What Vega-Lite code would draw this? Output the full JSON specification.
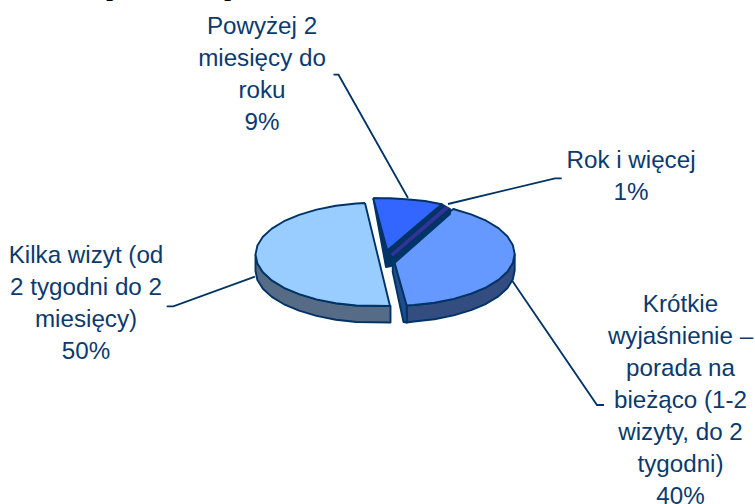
{"$schema":"https://vega.github.io/schema/vega-lite/v6.json","width":755,"height":504,"padding":0,"autosize":{"type":"none"},"background":"white","config":{"view":{"stroke":null}},
"layer":[
{"data":{"values":[
{"slice":"Kilka bok","x":255.5,"y":254.5},{"slice":"Kilka bok","x":257.4,"y":263.5},{"slice":"Kilka bok","x":262.9,"y":272.2},{"slice":"Kilka bok","x":271.8,"y":280.4},{"slice":"Kilka bok","x":284,"y":287.8},{"slice":"Kilka bok","x":299.1,"y":294.2},{"slice":"Kilka bok","x":316.5,"y":299.4},{"slice":"Kilka bok","x":335.8,"y":303.2},{"slice":"Kilka bok","x":356.3,"y":305.5},{"slice":"Kilka bok","x":390.5,"y":306},{"slice":"Kilka bok","x":390.5,"y":322.5},{"slice":"Kilka bok","x":356.3,"y":322},{"slice":"Kilka bok","x":335.8,"y":319.7},{"slice":"Kilka bok","x":316.5,"y":315.9},{"slice":"Kilka bok","x":299.1,"y":310.7},{"slice":"Kilka bok","x":284,"y":304.3},{"slice":"Kilka bok","x":271.8,"y":296.9},{"slice":"Kilka bok","x":262.9,"y":288.7},{"slice":"Kilka bok","x":257.4,"y":280},{"slice":"Kilka bok","x":255.5,"y":271},{"slice":"Kilka bok","x":255.5,"y":254.5},
{"slice":"Kilka","x":365,"y":203},{"slice":"Kilka","x":356.3,"y":203.5},{"slice":"Kilka","x":335.8,"y":205.8},{"slice":"Kilka","x":316.5,"y":209.6},{"slice":"Kilka","x":299.1,"y":214.8},{"slice":"Kilka","x":284,"y":221.2},{"slice":"Kilka","x":271.8,"y":228.6},{"slice":"Kilka","x":262.9,"y":236.8},{"slice":"Kilka","x":257.4,"y":245.5},{"slice":"Kilka","x":255.5,"y":254.5},{"slice":"Kilka","x":257.4,"y":263.5},{"slice":"Kilka","x":262.9,"y":272.2},{"slice":"Kilka","x":271.8,"y":280.4},{"slice":"Kilka","x":284,"y":287.8},{"slice":"Kilka","x":299.1,"y":294.2},{"slice":"Kilka","x":316.5,"y":299.4},{"slice":"Kilka","x":335.8,"y":303.2},{"slice":"Kilka","x":356.3,"y":305.5},{"slice":"Kilka","x":390,"y":306},{"slice":"Kilka","x":365,"y":203},
{"slice":"Krotkie bok","x":514.7,"y":254},{"slice":"Krotkie bok","x":512.8,"y":263},{"slice":"Krotkie bok","x":507.3,"y":271.7},{"slice":"Krotkie bok","x":498.4,"y":279.9},{"slice":"Krotkie bok","x":486.2,"y":287.3},{"slice":"Krotkie bok","x":471.1,"y":293.7},{"slice":"Krotkie bok","x":453.7,"y":298.9},{"slice":"Krotkie bok","x":434.4,"y":302.7},{"slice":"Krotkie bok","x":413.9,"y":305},{"slice":"Krotkie bok","x":406.7,"y":305.4},{"slice":"Krotkie bok","x":406.7,"y":322.5},{"slice":"Krotkie bok","x":413.9,"y":321.5},{"slice":"Krotkie bok","x":434.4,"y":319.2},{"slice":"Krotkie bok","x":453.7,"y":315.4},{"slice":"Krotkie bok","x":471.1,"y":310.2},{"slice":"Krotkie bok","x":486.2,"y":303.8},{"slice":"Krotkie bok","x":498.4,"y":296.4},{"slice":"Krotkie bok","x":507.3,"y":288.2},{"slice":"Krotkie bok","x":512.8,"y":279.5},{"slice":"Krotkie bok","x":514.7,"y":270.5},{"slice":"Krotkie bok","x":514.7,"y":254},
{"slice":"Krotkie ciecie","x":392.7,"y":256},{"slice":"Krotkie ciecie","x":392.7,"y":272},{"slice":"Krotkie ciecie","x":403.5,"y":322},{"slice":"Krotkie ciecie","x":406.7,"y":322.5},{"slice":"Krotkie ciecie","x":406.7,"y":305.4},{"slice":"Krotkie ciecie","x":392.7,"y":256},
{"slice":"Krotkie","x":392.7,"y":256},{"slice":"Krotkie","x":453.3,"y":209},{"slice":"Krotkie","x":471.1,"y":214.3},{"slice":"Krotkie","x":486.2,"y":220.7},{"slice":"Krotkie","x":498.4,"y":228.1},{"slice":"Krotkie","x":507.3,"y":236.3},{"slice":"Krotkie","x":512.8,"y":245},{"slice":"Krotkie","x":514.7,"y":254},{"slice":"Krotkie","x":512.8,"y":263},{"slice":"Krotkie","x":507.3,"y":271.7},{"slice":"Krotkie","x":498.4,"y":279.9},{"slice":"Krotkie","x":486.2,"y":287.3},{"slice":"Krotkie","x":471.1,"y":293.7},{"slice":"Krotkie","x":453.7,"y":298.9},{"slice":"Krotkie","x":434.4,"y":302.7},{"slice":"Krotkie","x":413.9,"y":305},{"slice":"Krotkie","x":406.7,"y":305.4},{"slice":"Krotkie","x":392.7,"y":256},
{"slice":"Powyzej bok","x":373.3,"y":198.3},{"slice":"Powyzej bok","x":386,"y":267},{"slice":"Powyzej bok","x":391,"y":266},{"slice":"Powyzej bok","x":450,"y":214},{"slice":"Powyzej bok","x":450,"y":209},{"slice":"Powyzej bok","x":441.7,"y":204.3},{"slice":"Powyzej bok","x":373.3,"y":198.3},
{"slice":"Powyzej","x":373.3,"y":198.3},{"slice":"Powyzej","x":390,"y":198.3},{"slice":"Powyzej","x":406,"y":199.3},{"slice":"Powyzej","x":425,"y":201},{"slice":"Powyzej","x":441.7,"y":204.3},{"slice":"Powyzej","x":387.3,"y":250.5},{"slice":"Powyzej","x":373.3,"y":198.3}
]},
"transform":[{"window":[{"op":"row_number","as":"i"}]}],
"mark":{"type":"line","stroke":"#003366","strokeWidth":1.9,"strokeJoin":"round"},
"encoding":{"x":{"field":"x","type":"quantitative","scale":{"domain":[0,755],"nice":false,"zero":false},"axis":null},"y":{"field":"y","type":"quantitative","scale":{"domain":[504,0],"nice":false,"zero":false},"axis":null},"order":{"field":"i","type":"quantitative"},"detail":{"field":"slice"},
"fill":{"field":"slice","type":"nominal","legend":null,"scale":{"domain":["Kilka bok","Kilka","Krotkie bok","Krotkie ciecie","Krotkie","Powyzej bok","Powyzej"],"range":["#566B85","#99CCFF","#334D80","#1F4D8A","#6699FF","#003366","#3366FF"]}}}},
{"data":{"values":[{"x":391,"y":254},{"x":445,"y":207},{"x":449,"y":208},{"x":393,"y":256},{"x":391,"y":254}]},
"transform":[{"window":[{"op":"row_number","as":"i"}]}],
"mark":{"type":"line","stroke":"#333399","strokeWidth":1,"fill":"#333399"},
"encoding":{"x":{"field":"x","type":"quantitative"},"y":{"field":"y","type":"quantitative"},"order":{"field":"i","type":"quantitative"}}},
{"data":{"values":[
{"lead":"Powyzej","x":333.5,"y":74.7},{"lead":"Powyzej","x":338.5,"y":74.7},{"lead":"Powyzej","x":408,"y":198},
{"lead":"Rok","x":561.7,"y":178.3},{"lead":"Rok","x":555,"y":178.3},{"lead":"Rok","x":448,"y":204},
{"lead":"Kilka","x":166.7,"y":306.3},{"lead":"Kilka","x":173.3,"y":306.3},{"lead":"Kilka","x":255,"y":276.7},
{"lead":"Krotkie","x":511.7,"y":280},{"lead":"Krotkie","x":597,"y":405},{"lead":"Krotkie","x":604,"y":405}
]},
"transform":[{"window":[{"op":"row_number","as":"i"}]}],
"mark":{"type":"line","stroke":"#003366","strokeWidth":1.8},
"encoding":{"x":{"field":"x","type":"quantitative"},"y":{"field":"y","type":"quantitative"},"detail":{"field":"lead"},"order":{"field":"i","type":"quantitative"}}},
{"data":{"values":[
{"label":"Powyżej 2\nmiesięcy do\nroku\n9%","x":262,"y":34},
{"label":"Rok i więcej\n1%","x":631,"y":168},
{"label":"Krótkie\nwyjaśnienie –\nporada na\nbieżąco (1-2\nwizyty, do 2\ntygodni)\n40%","x":680.5,"y":312},
{"label":"Kilka wizyt (od\n2 tygodni do 2\nmiesięcy)\n50%","x":86,"y":263}
]},
"mark":{"type":"text","font":"Liberation Sans","fontSize":24.2,"color":"#0B3A6E","lineBreak":"\n","lineHeight":32,"align":"center","baseline":"alphabetic"},
"encoding":{"x":{"field":"x","type":"quantitative"},"y":{"field":"y","type":"quantitative"},"text":{"field":"label"}}},
{"data":{"values":[{"label":"p","x":113,"y":-4},{"label":"p","x":231,"y":-4}]},
"mark":{"type":"text","font":"Liberation Serif","fontWeight":"bold","fontSize":24,"color":"black","align":"center","baseline":"alphabetic"},
"encoding":{"x":{"field":"x","type":"quantitative"},"y":{"field":"y","type":"quantitative"},"text":{"field":"label"}}}
]}
